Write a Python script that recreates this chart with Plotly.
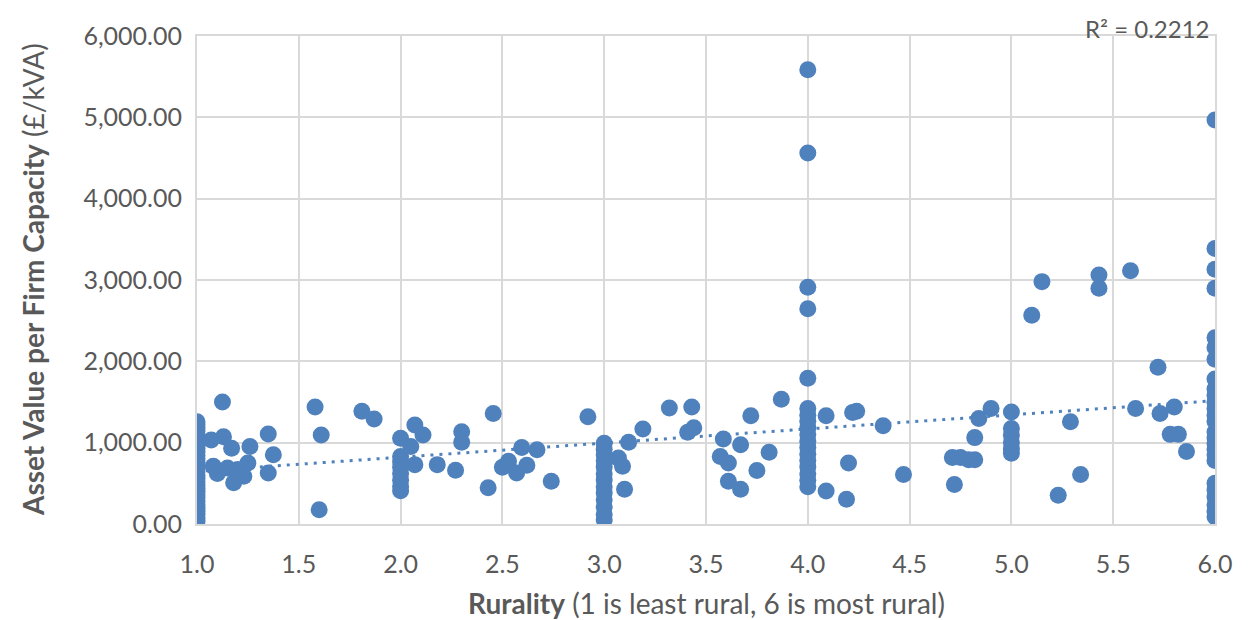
import numpy as np
import plotly.graph_objects as go

# ---- data (x = rurality, y = £/kVA) ----
rurality_col1 = [1.0] * 31
value_col1 = [1257, 1222, 1185, 1143, 1098, 1062, 1012, 968, 931, 884, 842, 803, 758, 722,
              681, 643, 597, 561, 518, 483, 441, 402, 357, 322, 279, 238, 203, 158, 121, 78, 38]

rurality_1_2 = [1.125, 1.13, 1.07, 1.17, 1.26, 1.35, 1.375, 1.08, 1.10, 1.15, 1.20, 1.18,
                1.25, 1.23, 1.35, 1.58, 1.61, 1.60, 1.81, 1.87]
value_1_2 = [1500, 1074, 1034, 932, 953, 1107, 852, 709, 620, 689, 669, 506,
             749, 588, 628, 1439, 1095, 174, 1387, 1290]

rurality_col2 = [2.0] * 8
value_col2 = [1054, 831, 762, 698, 621, 538, 462, 410]

rurality_2_3 = [2.07, 2.11, 2.05, 2.07, 2.18, 2.27, 2.30, 2.30, 2.455, 2.43, 2.50, 2.53,
                2.57, 2.595, 2.62, 2.67, 2.74, 2.92]
value_2_3 = [1217, 1095, 953, 730, 730, 660, 1135, 1005, 1358, 445, 697, 770,
             628, 940, 721, 912, 527, 1318]

rurality_col3 = [3.0] * 13
value_col3 = [993, 918, 852, 779, 702, 618, 541, 458, 382, 297, 212, 118, 52]

rurality_3_4 = [3.07, 3.09, 3.10, 3.12, 3.19, 3.32, 3.43, 3.41, 3.44, 3.585, 3.67, 3.57,
                3.61, 3.61, 3.67, 3.72, 3.81, 3.75, 3.87]
value_3_4 = [810, 709, 426, 1005, 1168, 1427, 1439, 1127, 1184, 1046, 973, 831,
             749, 527, 426, 1330, 883, 657, 1533]

rurality_col4 = [4.0] * 18
value_col4 = [5584, 4562, 2911, 2647, 1792, 1420, 1338, 1262, 1179, 1101, 1018, 942,
              858, 781, 702, 619, 538, 458]

rurality_4_5 = [4.09, 4.22, 4.24, 4.37, 4.20, 4.09, 4.19, 4.47, 4.72, 4.71, 4.75, 4.79,
                4.82, 4.82, 4.84, 4.90]
value_4_5 = [1330, 1370, 1387, 1208, 749, 405, 304, 608, 487, 819, 819, 791,
             791, 1062, 1297, 1419]

rurality_col5 = [5.0] * 6
value_col5 = [1378, 1175, 1090, 1002, 921, 871]

rurality_5_6 = [5.10, 5.15, 5.29, 5.34, 5.23, 5.43, 5.43, 5.585, 5.61, 5.72, 5.73, 5.80,
                5.78, 5.82, 5.86]
value_5_6 = [2567, 2980, 1257, 608, 353, 3061, 2899, 3114, 1419, 1926, 1358, 1439,
             1102, 1102, 890]

rurality_col6 = [6.0] * 26
value_col6 = [4967, 3388, 3131, 2899, 2291, 2169, 2027, 1784, 1661, 1582, 1498, 1421,
              1338, 1262, 1131, 1058, 991, 918, 852, 781, 502, 418, 331, 238, 152, 88]

r_squared_label = "R² = 0.2212"
x_ticks = [1.0, 1.5, 2.0, 2.5, 3.0, 3.5, 4.0, 4.5, 5.0, 5.5, 6.0]
y_ticks = [0, 1000, 2000, 3000, 4000, 5000, 6000]

x = np.array(rurality_col1 + rurality_1_2 + rurality_col2 + rurality_2_3 + rurality_col3 +
             rurality_3_4 + rurality_col4 + rurality_4_5 + rurality_col5 + rurality_5_6 +
             rurality_col6, dtype=float)
y = np.array(value_col1 + value_1_2 + value_col2 + value_2_3 + value_col3 + value_3_4 +
             value_col4 + value_4_5 + value_col5 + value_5_6 + value_col6, dtype=float)

# linear trendline fitted to the data (least squares)
slope, intercept = np.polyfit(x, y, 1)
x_fit = np.array([x.min(), x.max()])
y_fit = slope * x_fit + intercept

BLUE = "#4F81BD"
GREY_TXT = "#595959"
GRID = "#D9D9D9"
FONT = "Lato, 'Open Sans', sans-serif"

MARGIN_T = 23
PLOT_W, PLOT_H = 1018, 493

fig = go.Figure()
fig.add_trace(go.Scatter(x=x, y=y, mode="markers",
                         marker=dict(size=17, color=BLUE, line=dict(width=0)),
                         showlegend=False, hoverinfo="x+y"))
fig.add_trace(go.Scatter(x=x_fit, y=y_fit, mode="lines",
                         line=dict(color=BLUE, width=3, dash="3px,6px"),
                         showlegend=False, hoverinfo="skip"))

fig.update_layout(
    width=1247, height=612,
    margin=dict(l=189, r=40, t=MARGIN_T, b=96),
    paper_bgcolor="white", plot_bgcolor="white",
    font=dict(family=FONT, color=GREY_TXT),
    xaxis=dict(range=[1, 6], tickvals=x_ticks, tickformat=".1f",
               showgrid=True, gridcolor=GRID, gridwidth=2,
               showline=True, linecolor=GRID, linewidth=2, mirror=True,
               zeroline=False, ticks="outside", ticklen=17, tickcolor="rgba(0,0,0,0)",
               tickfont=dict(size=25, color=GREY_TXT, family=FONT)),
    yaxis=dict(range=[0, 6000], tickvals=y_ticks, tickformat=",.2f",
               showgrid=True, gridcolor=GRID, gridwidth=2,
               showline=True, linecolor=GRID, linewidth=2, mirror=True,
               zeroline=False, ticks="outside", ticklen=8, tickcolor="rgba(0,0,0,0)",
               tickfont=dict(size=25, color=GREY_TXT, family=FONT)),
    annotations=[
        dict(text="<b>Asset Value per Firm Capacity</b> (£/kVA)", textangle=-90,
             xref="paper", yref="paper", x=-164 / PLOT_W, y=0.5,
             xanchor="center", yanchor="middle", showarrow=False,
             font=dict(size=28, color=GREY_TXT, family=FONT)),
        dict(text="<b>Rurality</b> (1 is least rural, 6 is most rural)",
             xref="paper", yref="paper", x=0.5, y=-80 / PLOT_H,
             xanchor="center", yanchor="middle", showarrow=False,
             font=dict(size=28, color=GREY_TXT, family=FONT)),
        dict(text=r_squared_label, xref="paper", yref="paper",
             x=(1211 - 197) / PLOT_W, y=1 + MARGIN_T / PLOT_H,
             xanchor="right", yanchor="top", borderpad=0,
             showarrow=False, font=dict(size=24, color=GREY_TXT, family=FONT)),
    ],
)

fig.write_html("out.html")
